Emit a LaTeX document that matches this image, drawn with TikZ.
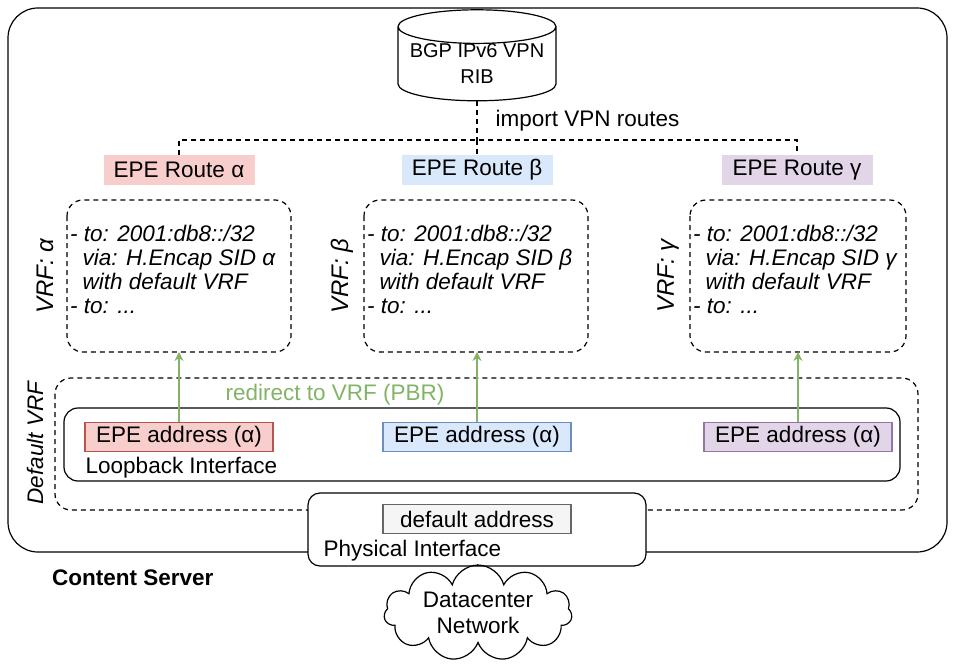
\documentclass[tikz,border=0pt]{standalone}
\usepackage{fontspec}
\setmainfont{Liberation Sans}
\usetikzlibrary{shapes.geometric,shapes.symbols,arrows.meta}
\definecolor{redF}{HTML}{F8CECC}\definecolor{redD}{HTML}{B85450}
\definecolor{bluF}{HTML}{DAE8FC}\definecolor{bluD}{HTML}{6C8EBF}
\definecolor{purF}{HTML}{E1D5E7}\definecolor{purD}{HTML}{9673A6}
\definecolor{grnD}{HTML}{82B366}
\begin{document}
\fontsize{22.5}{26}\selectfont
\begin{tikzpicture}[x=1pt,y=-1pt,
  box/.style={draw,rounded corners=14pt,line width=1.2pt},
  vrf/.style={draw,dash pattern=on 5pt off 4pt,rounded corners=16pt,line width=1.2pt},
  tag/.style={inner sep=0pt,minimum width=151pt,minimum height=30pt},
  addr/.style={draw,line width=1.2pt,inner sep=0pt,minimum width=188pt,minimum height=29pt},
  route/.style={align=left,anchor=north west,font=\itshape\fontsize{22.5}{24}\selectfont,inner sep=0pt},
  redir/.style={draw=grnD,line width=1.5pt,-{Stealth[length=9pt,width=9pt]}}]
\useasboundingbox (0,0) rectangle (955,671);
% content server
\draw[box,rounded corners=30pt] (8,8) rectangle (947,552);
\node[anchor=west,font=\bfseries,inner sep=0pt] (cs) at (52,578) {Content Server};
% RIB
\node[cylinder,shape border rotate=90,draw,line width=1.2pt,aspect=0.25,
  minimum width=158pt,minimum height=78pt,align=center,inner sep=0pt,
  font=\fontsize{20}{26}\selectfont] (rib) at (477,64)
  {BGP IPv6 VPN\\RIB};
\node[anchor=west] (imp) at (488,121) {import VPN routes};
% route tags
\node[tag,fill=redF] (ta) at (179,170) {EPE Route α};
\node[tag,fill=bluF] (tb) at (477,170) {EPE Route β};
\node[tag,fill=purF] (tc) at (797,170) {EPE Route γ};
\draw[vrf] (rib.bottom) -- (477,140) coordinate (hub);
\draw[vrf,rounded corners=0pt] (ta.north) |- (hub) -| (tc.north);
\draw[vrf] (hub) -- (tb.north);
% vrfs
\foreach \l/\g/\a/\b/\x in {a/α/67/291/45, b/β/364/588/342, c/γ/690/906/668}{
  \draw[vrf] (\a,200) rectangle (\b,352);
  \node[rotate=90,font=\itshape\fontsize{24}{27}\selectfont] (v\l) at (\x,276) {VRF: \g};
  \node[route] (r\l) at (\a+3,225) {- to: 2001:db8::/32\\\ \ via: H.Encap SID \g\\\ \ with default VRF\\- to: ...};
}
% default vrf
\draw[vrf] (55,378) rectangle (918,510);
\node[rotate=90,font=\itshape] (dv) at (35,443) {Default VRF};
\draw[box] (64,408) rectangle (900,481);
\node[anchor=west] (lo) at (78,468) {Loopback Interface};
\node[addr,fill=redF,draw=redD] (ea) at (179,437) {EPE address (α)};
\node[addr,fill=bluF,draw=bluD] (eb) at (477,437) {EPE address (α)};
\node[addr,fill=purF,draw=purD] (ec) at (798,437) {EPE address (α)};
\draw[redir] (ea.north) -- (179,352);
\draw[redir] (eb.north) -- (477,352);
\draw[redir] (ec.north) -- (798,352);
\node[text=grnD] (pbr) at (335,395) {redirect to VRF (PBR)};
% physical
\draw[box,fill=white,rounded corners=12pt] (308,493) rectangle (646,566);
\node[addr,fill=black!4,draw=black!60] (da) at (477,519) {default address};
\node[anchor=west] (ph) at (316,551) {Physical Interface};
\node[cloud,draw,line width=1.2pt,cloud puffs=11,aspect=2.4,minimum width=188pt,
  minimum height=74pt,align=center,inner sep=0pt] (dc) at (478,613) {Datacenter\\Network};
\draw[line width=1.2pt] (477,566) -- (dc.north);
\end{tikzpicture}
\end{document}
